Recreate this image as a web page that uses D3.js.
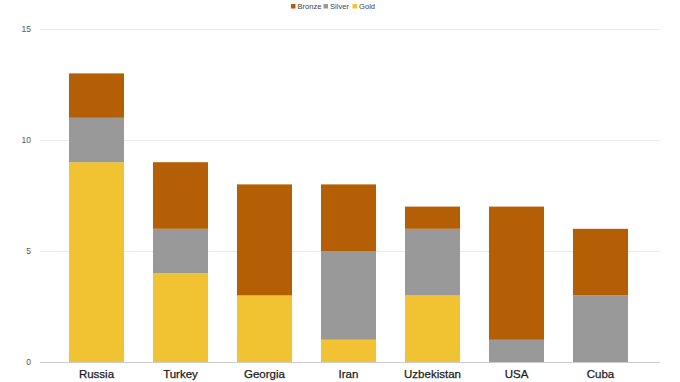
<!DOCTYPE html>
<html><head><meta charset="utf-8">
<script src="https://cdn.jsdelivr.net/npm/d3@7"></script>
<style>body{margin:0;background:#fff;}svg{display:block;font-family:"Liberation Sans",Arial,sans-serif;}</style>
</head><body><svg width="680" height="382"></svg>
<script>
const categories = ["Russia","Turkey","Georgia","Iran","Uzbekistan","USA","Cuba"];
const gold   = [9,4,3,1,3,0,0];
const silver = [2,2,0,4,3,1,3];
const bronze = [2,3,5,3,1,6,3];
const yTicks = [0,5,10,15];
const seriesNames = ["Gold","Silver","Bronze"];
const colors = {Gold:"#F1C232", Silver:"#999999", Bronze:"#B45F06"};

const rows = categories.map((c,i)=>({cat:c, Gold:gold[i], Silver:silver[i], Bronze:bronze[i]}));
const svg = d3.select("svg");
const x = d3.scaleBand().domain(categories).range([54.5,642.5]).paddingInner(0.345).paddingOuter(0.1725);
const y = d3.scaleLinear().domain([0,15]).range([362,29]);

svg.append("g").selectAll("line").data(yTicks).join("line")
  .attr("x1",40).attr("x2",660).attr("y1",d=>y(d)).attr("y2",d=>y(d))
  .attr("stroke",d=>d===0?"#cccccc":"#ebebeb").attr("stroke-width",1).attr("shape-rendering","crispEdges");
svg.append("g").selectAll("text").data(yTicks).join("text")
  .attr("x",31).attr("y",d=>y(d)).attr("dy","0.35em").attr("text-anchor","end")
  .attr("font-size",8.5).attr("fill","#555").text(d=>d);

const stack = d3.stack().keys(seriesNames)(rows);
svg.append("g").selectAll("g").data(stack).join("g").attr("fill",s=>colors[s.key])
  .selectAll("rect").data(s=>s).join("rect")
  .attr("x",d=>x(d.data.cat)).attr("width",x.bandwidth())
  .attr("y",d=>y(d[1])).attr("height",d=>y(d[0])-y(d[1]));

svg.append("line").attr("x1",40).attr("x2",660).attr("y1",362.5).attr("y2",362.5).attr("stroke","#cccccc");

svg.append("g").selectAll("text").data(categories).join("text")
  .attr("x",d=>x(d)+x.bandwidth()/2).attr("y",378).attr("text-anchor","middle")
  .attr("font-size",11.5).attr("fill","#1a1a1a").attr("stroke","#1a1a1a").attr("stroke-width",0.25).text(d=>d);

const legendItems = ["Bronze","Silver","Gold"];
const lg = svg.append("g").attr("font-size",7.6).attr("fill","#444");
const lx = [291, 323.5, 352.5];
legendItems.forEach((k,i)=>{
  lg.append("rect").attr("x",lx[i]).attr("y",4).attr("width",4.5).attr("height",4.5).attr("fill",colors[k]);
  lg.append("text").attr("x",lx[i]+6.5).attr("y",9).text(k).attr("fill","#444");
});
</script></body></html>
